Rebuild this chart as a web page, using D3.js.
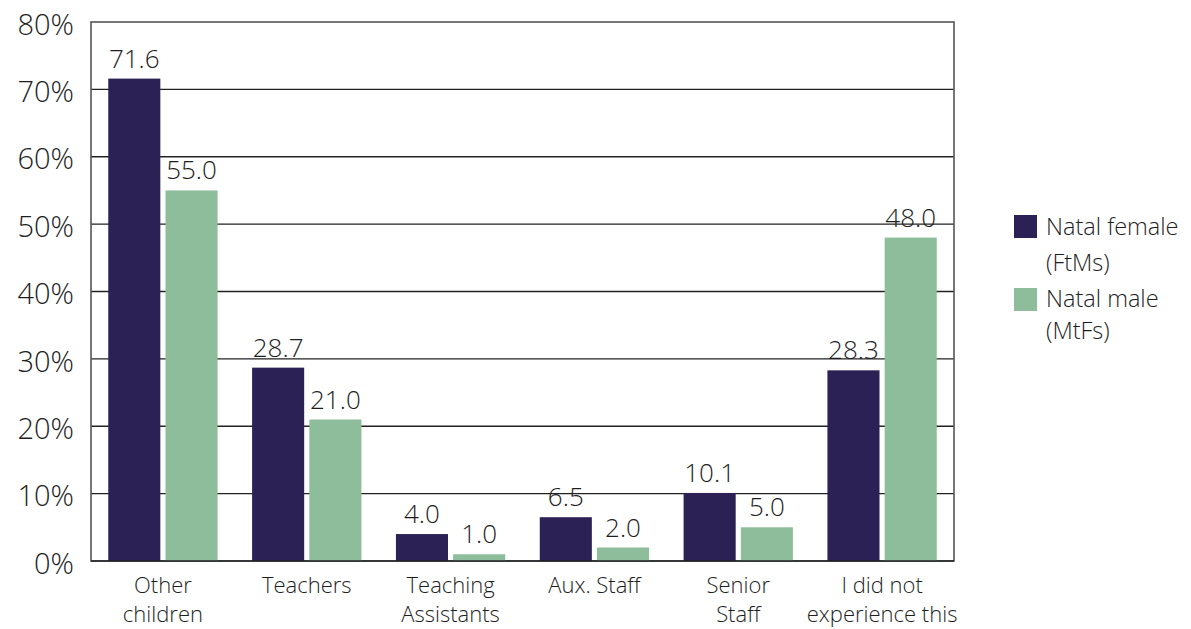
<!DOCTYPE html>
<html>
<head>
<meta charset="utf-8">
<script src="https://cdn.jsdelivr.net/npm/d3@7"></script>
<style>
  html, body { margin: 0; padding: 0; background: #fff; }
  svg { display: block; font-family: "Open Sans", "Noto Sans", sans-serif; }
</style>
</head>
<body>
<svg id="chart" width="1191" height="629"></svg>
<script>
// Categories (each may wrap onto two lines)
const categories = [
  ["Other", "children"],
  ["Teachers"],
  ["Teaching", "Assistants"],
  ["Aux. Staff"],
  ["Senior", "Staff"],
  ["I did not", "experience this"]
];
const seriesNames = [["Natal female", "(FtMs)"], ["Natal male", "(MtFs)"]];
const femaleValues = [71.6, 28.7, 4.0, 6.5, 10.1, 28.3];
const maleValues = [55.0, 21.0, 1.0, 2.0, 5.0, 48.0];
const yTicks = [0, 10, 20, 30, 40, 50, 60, 70, 80];
const colors = ["#2b2155", "#8dbd9a"];
const textColor = "#1e1e1e";

const svg = d3.select("#chart");
const plot = { left: 91, right: 954, top: 22, bottom: 561 };

const x0 = d3.scaleBand()
  .domain(d3.range(categories.length))
  .range([plot.left, plot.right])
  .paddingInner(0.24)
  .paddingOuter(0.12);
const x1 = d3.scaleBand()
  .domain([0, 1])
  .range([0, x0.bandwidth()])
  .paddingInner(0.09);
const y = d3.scaleLinear().domain([0, 80]).range([plot.bottom, plot.top]);

// Horizontal gridlines
svg.append("g").selectAll("line")
  .data(yTicks.filter(t => t > 0 && t < 80))
  .join("line")
  .attr("x1", plot.left).attr("x2", plot.right)
  .attr("y1", d => y(d)).attr("y2", d => y(d))
  .attr("stroke", "#222").attr("stroke-width", 1.3);

// Plot frame
svg.append("rect")
  .attr("x", plot.left).attr("y", plot.top)
  .attr("width", plot.right - plot.left).attr("height", plot.bottom - plot.top)
  .attr("fill", "none").attr("stroke", "#555").attr("stroke-width", 1.6);

// Y axis labels
const yAxis = d3.axisLeft(y).tickValues(yTicks).tickFormat(d => d + "%").tickSize(0).tickPadding(17);
const yg = svg.append("g").attr("transform", `translate(${plot.left},0)`).call(yAxis);
yg.select(".domain").remove();
yg.selectAll("text")
  .attr("font-size", 29).attr("fill", textColor).attr("dy", "0.42em")
  .style("font-family", "'Open Sans', sans-serif").style("font-weight", 300);

// Bars
const data = categories.map((c, i) => [femaleValues[i], maleValues[i]]);
const groups = svg.append("g").selectAll("g")
  .data(data).join("g")
  .attr("transform", (d, i) => `translate(${x0(i)},0)`);

groups.selectAll("rect")
  .data(d => d.map((v, s) => ({ v, s })))
  .join("rect")
  .attr("x", d => x1(d.s))
  .attr("width", x1.bandwidth())
  .attr("y", d => y(d.v))
  .attr("height", d => y(0) - y(d.v))
  .attr("fill", d => colors[d.s]);

groups.selectAll("text.val")
  .data(d => d.map((v, s) => ({ v, s })))
  .join("text")
  .attr("class", "val")
  .attr("x", d => x1(d.s) + x1.bandwidth() / 2)
  .attr("y", d => y(d.v) - 11)
  .attr("text-anchor", "middle")
  .attr("font-size", 26).attr("font-weight", 300).attr("fill", textColor)
  .text(d => d.v.toFixed(1));

// Bottom axis line
svg.append("line")
  .attr("x1", plot.left).attr("x2", plot.right)
  .attr("y1", plot.bottom).attr("y2", plot.bottom)
  .attr("stroke", "#222").attr("stroke-width", 1.5);

// Category labels
const xl = svg.append("g").selectAll("text")
  .data(categories).join("text")
  .attr("x", (d, i) => x0(i) + x0.bandwidth() / 2)
  .attr("y", 593)
  .attr("text-anchor", "middle")
  .attr("font-size", 22).attr("font-weight", 300).attr("fill", textColor);
xl.selectAll("tspan")
  .data(d => d).join("tspan")
  .attr("x", function () { return this.parentNode.getAttribute("x"); })
  .attr("dy", (d, i) => i === 0 ? 0 : 29)
  .text(d => d);

// Legend
const legendRows = [
  { box: 215, lines: [235, 271] },
  { box: 288, lines: [307, 339] }
];
const legend = svg.append("g");
seriesNames.forEach((names, s) => {
  legend.append("rect")
    .attr("x", 1014).attr("y", legendRows[s].box)
    .attr("width", 23).attr("height", 23)
    .attr("fill", colors[s]);
  names.forEach((t, j) => {
    legend.append("text")
      .attr("x", 1046).attr("y", legendRows[s].lines[j])
      .attr("font-size", 23.5).attr("font-weight", 300).attr("fill", textColor)
      .text(t);
  });
});
</script>
</body>
</html>
